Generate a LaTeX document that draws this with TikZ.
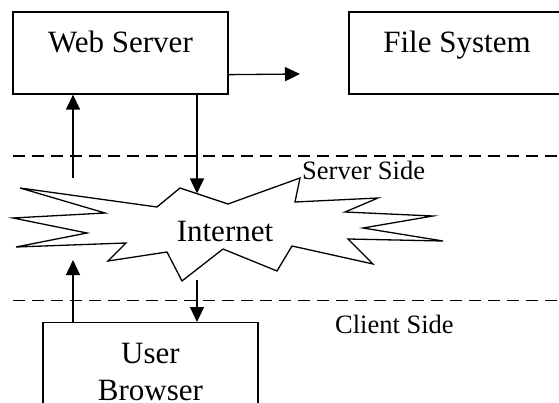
\documentclass[tikz,border=0pt]{standalone}
\usepackage{fontspec}
\setmainfont{Liberation Serif}
\usetikzlibrary{arrows.meta,calc}
\newcommand{\mainsize}{\fontsize{31}{37.5}\selectfont}
\newcommand{\sidesize}{\fontsize{26.5}{30}\selectfont}
\tikzset{
  boxnode/.style={draw, line width=1.3pt, minimum width=215pt, text height=41pt,
    text depth=41pt, inner xsep=0pt, inner ysep=0pt, font=\mainsize},
  flow/.style={line width=1.3pt, -{Triangle[length=15pt,width=14pt]}},
  divider/.style={line width=1.1pt, dash pattern=on 12pt off 7pt},
  sidelabel/.style={font=\sidesize, inner sep=0pt, anchor=base west},
  cloud/.style={line width=1.3pt, line join=miter},
}
\begin{document}
\begin{tikzpicture}[x=1pt, y=-1pt]
  \useasboundingbox (0,0) rectangle (559,403);
  \clip (0,0) rectangle (559,403);

  % server-side boxes
  \node[boxnode] (ws) at (120.5,53) {Web Server};
  \node[boxnode, minimum width=216pt] (fs) at (457,53) {File System};

  % client-side box
  \node[draw, line width=1.3pt, minimum width=215pt, anchor=north, align=center,
        font=\mainsize, inner xsep=0pt, inner ysep=20.5pt] (ub) at (150.5,322) {User\\Browser};

  % dividers between the two sides
  \draw[divider] (13,156) -- (559,156);
  \draw[divider] (13,300.5) -- (559,300.5);
  \node[sidelabel] (ss) at (302,180) {Server Side};
  \node[sidelabel] (cs) at (335,333) {Client Side};

  % the internet cloud
  \draw[cloud] (20,188) -- (157,207) -- (180,188) -- (228,204) -- (300,178)
    -- (295,202) -- (378,198) -- (345,212) -- (433,216) -- (363,228)
    -- (443,241) -- (348,239) -- (373,264) -- (292,246) -- (277,271)
    -- (223,249) -- (182,281) -- (167,252) -- (108,261) -- (126,243)
    -- (16,247) -- (87,233) -- (13,218) -- (105,213) -- cycle;
  \node[font=\mainsize, inner sep=0pt, anchor=base] (net) at (225,242) {Internet};

  % request / response arrows
  \coordinate (upA) at (73,178);
  \coordinate (dnA) at (197,193.5);
  \coordinate (rt) at (300,74);
  \coordinate (upB) at (73,260);
  \coordinate (dnB) at (197,280);
  \draw[flow] (upA) -- (upA |- ws.south);
  \draw[flow] (dnA |- ws.south) -- (dnA);
  \draw[flow] ($(ws.south east)+(0,-20)$) -- (rt);
  \draw[flow] (upB |- ub.north) -- (upB);
  \draw[flow] (dnB) -- (dnB |- ub.north);
\end{tikzpicture}
\end{document}
